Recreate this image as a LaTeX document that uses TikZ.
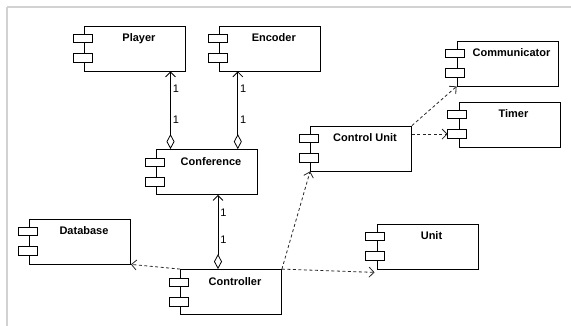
\documentclass[tikz,border=0pt]{standalone}
\usepackage{fontspec}
\setmainfont{Liberation Sans}
\usetikzlibrary{arrows.meta, positioning}
\tikzset{
    component/.style={
        rectangle, draw=black, line width=0.8pt,
        minimum width=101pt, minimum height=45pt,
        fill=white, inner sep=0pt,
        label={[compname]north:#1}
    },
    compname/.style={
        font=\bfseries\fontsize{11}{13}\selectfont,
        anchor=base, inner sep=0pt, xshift=4pt, yshift=-16pt
    },
    port/.style={draw=black, line width=0.8pt, fill=white},
    assoc/.style={
        draw=black, line width=0.8pt,
        {Straight Barb[length=5pt,width=10pt]}-{Diamond[open,length=15pt,width=8pt]}
    },
    dep/.style={
        draw=black!85, line width=0.8pt, dash pattern=on 3pt off 2.5pt,
        -{Straight Barb[length=5pt,width=10pt]}
    },
    mult/.style={right, inner sep=2pt, font=\fontsize{11}{13}\selectfont},
    frame/.style={draw=gray!35, line width=2pt}
}

\begin{document}
\begin{tikzpicture}[x=1pt, y=-1pt]
\useasboundingbox (0,0) rectangle (571,326);

% Window edges
\draw[frame] (7,7) -- (571,7);
\draw[frame] (7,7) -- (7,326);

% Components
\node[component=Player] (player) at (135,48.5) {};
\node[component=Encoder, right=33pt of player] (encoder) {};
\node[component=Conference] (conference) at (207,172) {};
\node[component=Database] (database) at (80,241.5) {};
\node[component=Controller] (controller) at (231,292) {};
\node[component=Control Unit] (controlunit) at (361,148.5) {};
\node[component=Unit] (unit) at (427.5,246.5) {};
\node[component=Communicator] (communicator) at (507.5,63.5) {};
\node[component=Timer] (timer) at (509.5,124.5) {};

% Component ports
\foreach \c in {player, encoder, conference, database, controller,
                controlunit, unit, communicator, timer} {
    \draw[port] ([shift={(-11pt,-9pt)}]\c.north west) rectangle ++(19pt,-8pt);
    \draw[port] ([shift={(-11pt,-28pt)}]\c.north west) rectangle ++(19pt,-9pt);
}
\coordinate (timerport) at ([shift={(-11pt,-32.5pt)}]timer.north west);

% Aggregations
\draw[assoc] ([xshift=35.5pt]player.south) -- ([xshift=35.5pt]player.south |- conference.north)
    node[mult, pos=0.22] {1} node[mult, pos=0.62] {1};
\draw[assoc] ([xshift=-32pt]encoder.south) -- ([xshift=-32pt]encoder.south |- conference.north)
    node[mult, pos=0.22] {1} node[mult, pos=0.62] {1};
\draw[assoc] ([xshift=11pt]conference.south) -- ([xshift=11pt]conference.south |- controller.north)
    node[mult, pos=0.24] {1} node[mult, pos=0.61] {1};

% Dependencies
\draw[dep] (controller.north west) -- (database.south east);
\draw[dep] (controller.north east) -- (controlunit.south west);
\draw[dep] (controller.north east) -- ([shift={(-2pt,-3pt)}]unit.south west);
\draw[dep] (controlunit.north east) -- (communicator.south west);
\draw[dep] (controlunit.east |- timerport) -- (timerport);

\end{tikzpicture}
\end{document}
